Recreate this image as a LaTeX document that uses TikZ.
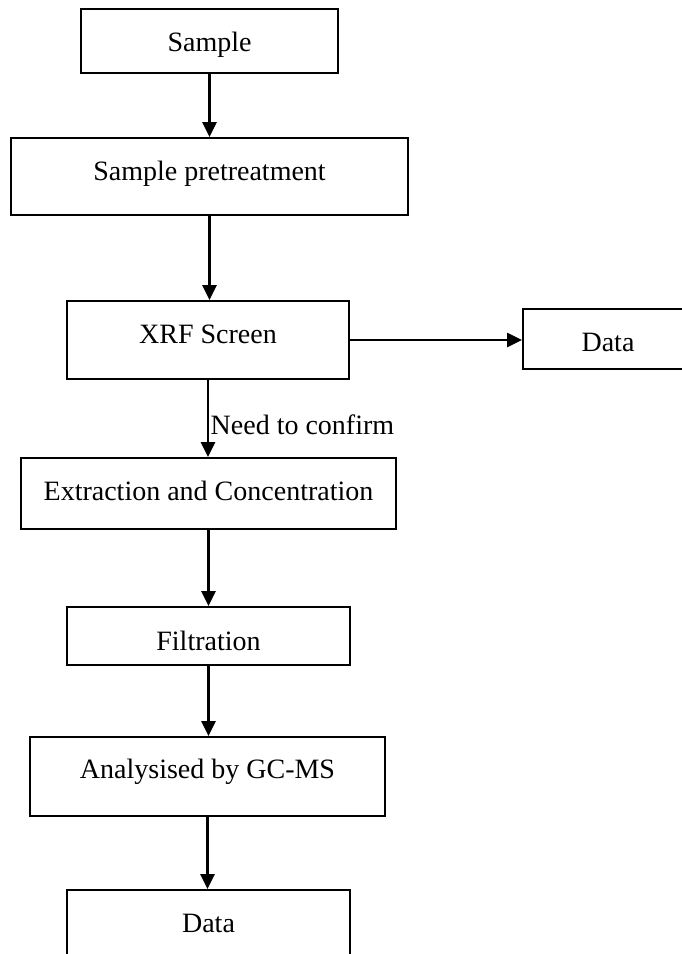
\documentclass[tikz,border=0pt]{standalone}
\usepackage{fontspec}
\setmainfont{Liberation Serif}
\usetikzlibrary{arrows.meta}
\begin{document}
\begin{tikzpicture}[x=1pt,y=-1pt,
  box/.style={draw,line width=2pt,inner sep=0pt,font=\fontsize{28}{34}\selectfont,text height=18.5pt,text depth=0pt},
  lbl/.style={inner sep=0pt,font=\fontsize{28}{34}\selectfont,text height=18.5pt,text depth=0pt},
  arr/.style={line width=2.6pt,-{Triangle[length=15pt,width=14pt]}}]
\path[use as bounding box] (0,0) rectangle (682,954);
\clip (0,0) rectangle (682,954);
\node[box,minimum width=257pt,minimum height=64pt,text height=20.5pt] (s) at (209.5,41) {Sample};
\node[box,minimum width=397pt,minimum height=77pt,text depth=10pt] (p) at (209.5,176.5) {Sample pretreatment};
\node[box,minimum width=282pt,minimum height=78pt,text depth=12pt] (x) at (208,340) {XRF Screen};
\node[box,minimum width=170pt,minimum height=60pt,text height=24.5pt] (d1) at (608,339) {Data};
\node[box,minimum width=375pt,minimum height=71pt,text depth=4pt] (e) at (208.5,493.5) {Extraction and Concentration};
\node[box,minimum width=283pt,minimum height=58pt,text height=29.5pt] (f) at (208.5,636) {Filtration};
\node[box,minimum width=355pt,minimum height=79pt,text depth=14pt] (g) at (207.5,776.5) {Analysised by GC-MS};
\node[box,minimum width=283pt,minimum height=66pt] (d2) at (208.5,923) {Data};
\node[lbl,anchor=west] (nc) at (210.5,425) {Need to confirm};
\draw[arr] (s.south) -- (s.south |- p.north);
\draw[arr] (p.south) -- (p.south |- x.north);
\draw[arr] (x.east) -- (d1.west |- x.east);
\draw[arr] (x.south) -- (x.south |- e.north);
\draw[arr] (e.south) -- (e.south |- f.north);
\draw[arr] (f.south) -- (f.south |- g.north);
\draw[arr] (g.south) -- (g.south |- d2.north);
\end{tikzpicture}
\end{document}
